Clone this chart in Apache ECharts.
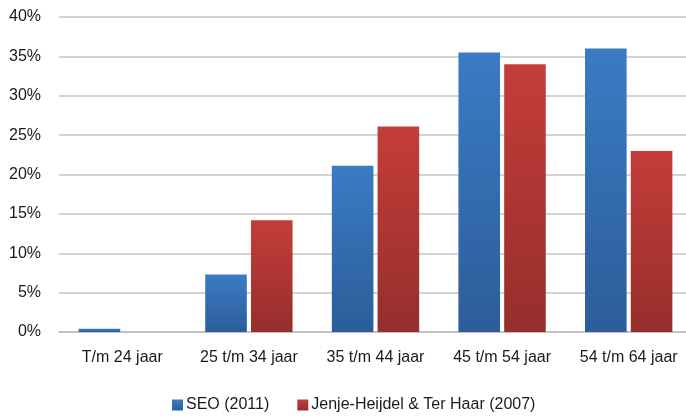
<!DOCTYPE html>
<html>
<head>
<meta charset="utf-8">
<script src="https://cdn.jsdelivr.net/npm/echarts@6/dist/echarts.min.js"></script>
<style>
  html, body { margin: 0; padding: 0; background: #fff; }
  #chart { width: 686px; height: 416px; }
</style>
</head>
<body>
<div id="chart"></div>
<script>
// Age groups and share per source (percent)
const categories = ['T/m 24 jaar', '25 t/m 34 jaar', '35 t/m 44 jaar', '45 t/m 54 jaar', '54 t/m 64 jaar'];
const seo2011 = [0.4, 7.3, 21.1, 35.5, 36.0];
const jenje2007 = [0, 14.2, 26.1, 34.0, 23.0];
const seriesNames = ['SEO (2011)', 'Jenje-Heijdel & Ter Haar (2007)'];

function vGrad(top, bottom) {
  return new echarts.graphic.LinearGradient(0, 0, 0, 1, [
    { offset: 0, color: top },
    { offset: 1, color: bottom }
  ]);
}

const textFont = { fontFamily: 'Liberation Sans, Arial, sans-serif', fontSize: 16, color: '#1a1a1a' };

const chart = echarts.init(document.getElementById('chart'), null, { renderer: 'canvas' });
chart.setOption({
  animation: false,
  backgroundColor: '#ffffff',
  grid: { left: 59, width: 633, top: 17, bottom: 84, containLabel: false, outerBoundsMode: 'none' },
  legend: {
    top: 397,
    left: 172,
    padding: 0,
    itemWidth: 11,
    itemHeight: 11,
    itemGap: 28,
    icon: 'rect',
    textStyle: Object.assign({}, textFont, { padding: [0, 0, 0, -2] }),
    data: seriesNames
  },
  xAxis: {
    type: 'category',
    data: categories,
    axisLine: { show: true, lineStyle: { color: '#bdbdbd', width: 1.5 } },
    axisTick: { show: false },
    axisLabel: Object.assign({ margin: 18, interval: 0, hideOverlap: false }, textFont)
  },
  yAxis: {
    type: 'value',
    min: 0,
    max: 40,
    interval: 5,
    axisLine: { show: false },
    axisTick: { show: false },
    axisLabel: Object.assign({ formatter: '{value}%', margin: 18 }, textFont),
    splitLine: { lineStyle: { color: '#c4c4c4', width: 1.5 } }
  },
  series: [
    {
      name: seriesNames[0],
      type: 'bar',
      data: seo2011,
      barGap: '10%',
      barCategoryGap: '31%',
      itemStyle: { color: vGrad('#3a7bc4', '#2c5d9a') }
    },
    {
      name: seriesNames[1],
      type: 'bar',
      data: jenje2007,
      itemStyle: { color: vGrad('#c53d3a', '#962e2c') }
    }
  ]
});
</script>
</body>
</html>
